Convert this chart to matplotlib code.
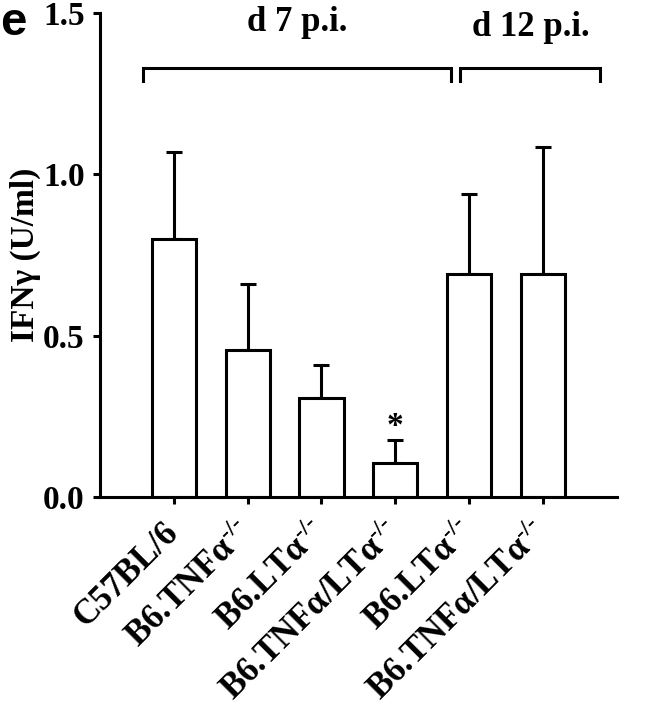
import matplotlib
matplotlib.use('Agg')
import matplotlib.pyplot as plt

# data
groups = ['C57BL/6', r'B6.TNFα$^{\text{-/-}}$', r'B6.LTα$^{\text{-/-}}$',
          r'B6.TNFα/LTα$^{\text{-/-}}$', r'B6.LTα$^{\text{-/-}}$',
          r'B6.TNFα/LTα$^{\text{-/-}}$']
means = [0.80, 0.455, 0.305, 0.105, 0.69, 0.69]
errs = [0.27, 0.205, 0.105, 0.07, 0.25, 0.395]
sig = ['', '', '', '*', '', '']
bracket_labels = ['d 7 p.i.', 'd 12 p.i.']

plt.rcParams['font.family'] = ['Liberation Serif', 'DejaVu Serif']
plt.rcParams['font.weight'] = 'bold'
plt.rcParams['mathtext.fontset'] = 'custom'
plt.rcParams['mathtext.rm'] = 'Liberation Serif:bold'
plt.rcParams['mathtext.bf'] = 'Liberation Serif:bold'
plt.rcParams['mathtext.it'] = 'Liberation Serif:bold'

fig = plt.figure(figsize=(6.54, 7.19), dpi=100)
ax = fig.add_axes([0.153, 0.309, 0.79, 0.673])

x = list(range(len(means)))
lw = 2.2
ax.bar(x, means, width=0.6, color='white', edgecolor='black', linewidth=lw, zorder=2)
# one-sided error bars
ax.errorbar(x, means, yerr=[[0] * len(errs), errs], fmt='none', ecolor='black',
            elinewidth=lw, capsize=6, capthick=lw, zorder=1)
for xi, m, e, s in zip(x, means, errs, sig):
    if s:
        ax.text(xi, m + e - 0.005, s, ha='center', va='bottom', fontsize=24)

ax.set_xlim(-1, 6)
ax.set_ylim(0, 1.5)
ax.set_yticks([0, 0.5, 1.0, 1.5])
ax.set_yticklabels(['0.0', '0.5', '1.0', '1.5'], fontsize=24, fontweight='bold')
ax.set_xticks(x)
ax.set_xticklabels(groups, rotation=45, ha='right', va='center', rotation_mode='anchor',
                   fontsize=25, fontweight='bold')
ax.tick_params(axis='both', width=lw, length=5, direction='out')
ax.tick_params(axis='x', pad=17)
ax.tick_params(axis='y', pad=6)
for sp in ['top', 'right']:
    ax.spines[sp].set_visible(False)
for sp in ['left', 'bottom']:
    ax.spines[sp].set_linewidth(lw)
ax.set_ylabel('IFNγ (U/ml)', fontsize=24, fontweight='bold')
ax.yaxis.set_label_coords(-0.115, 0.5)

# brackets for time points
for (x0, x1), lab, ty in zip([(-0.42, 3.76), (3.88, 5.78)], bracket_labels, [1.47, 1.455]):
    ax.plot([x0, x0, x1, x1], [1.29, 1.33, 1.33, 1.29], color='black', lw=lw,
            clip_on=False, solid_joinstyle='miter')
    ax.text((x0 + x1) / 2, ty, lab, ha='center', va='center', fontsize=25, fontweight='bold')

fig.text(0.0, 0.968, 'e', family='Liberation Sans', fontsize=34, fontweight='bold',
         ha='left', va='center')

fig.savefig('out.png', dpi=100)
